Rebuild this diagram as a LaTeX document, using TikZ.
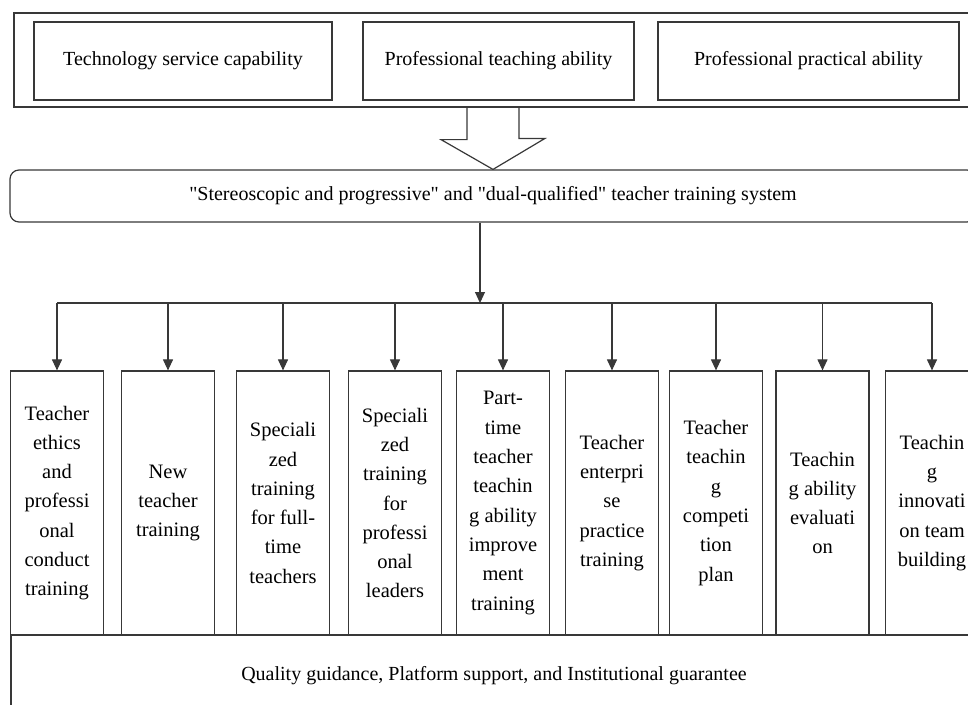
\documentclass[tikz,border=0pt]{standalone}
\usepackage{fontspec}
\setmainfont{Liberation Serif}[Ligatures=TeXOff]
\usetikzlibrary{arrows.meta,calc}
\definecolor{linegray}{gray}{0.22}
\begin{document}
\begin{tikzpicture}[x=1pt,y=-1pt,
  frame/.style={draw=linegray, line width=1.2pt, inner sep=0pt},
  topbox/.style={frame, minimum height=78pt, font=\fontsize{20}{24}\selectfont},
  trainbox/.style={frame, minimum width=93pt, minimum height=264pt, align=center,
    font=\fontsize{20.5}{29.3}\selectfont},
  conn/.style={draw=linegray, line width=1.1pt, -{Triangle[length=11pt,width=10pt]}},
  plainline/.style={draw=linegray, line width=1.2pt},
  fatarrow/.style={draw=linegray, line width=1.2pt, line join=miter}
]
\useasboundingbox (0,0) rectangle (968,704);

% top frame with three abilities
\node[frame, minimum width=976pt, minimum height=94pt] (outer) at (502,60) {};
\node[topbox, minimum width=298pt] (t1) at (183,61) {Technology service capability};
\node[topbox, minimum width=271pt] (t2) at (498.5,61) {Professional teaching ability};
\node[topbox, minimum width=301pt] (t3) at (808.5,61) {Professional practical ability};

% system box
\node[frame, rounded corners=9pt, minimum width=966pt, minimum height=52pt,
  font=\fontsize{20}{24}\selectfont] (sys) at (493,196)
  {"Stereoscopic and progressive" and "dual-qualified" teacher training system};

% hollow block arrow
\coordinate (tip) at (sys.north -| 493,0);
\draw[fatarrow] (outer.south -| tip) ++(-26,0) -- ++(0,32) -- ++(-26,0) -- (tip)
  -- ++(52,-31) -- ++(-26,0) -- ++(0,-32);

% training boxes
\node[trainbox] (b1) at (57,503) {Teacher\\ethics\\and\\professi\\onal\\conduct\\training};
\node[trainbox] (b2) at (168,503) {New\\teacher\\training};
\node[trainbox] (b3) at (283,503) {Speciali\\zed\\training\\for full-\\time\\teachers};
\node[trainbox] (b4) at (395,503) {Speciali\\zed\\training\\for\\professi\\onal\\leaders};
\node[trainbox] (b5) at (503,503) {Part-\\time\\teacher\\teachin\\g ability\\improve\\ment\\training};
\node[trainbox] (b6) at (612,503) {Teacher\\enterpri\\se\\practice\\training};
\node[trainbox] (b7) at (716,503) {Teacher\\teachin\\g\\competi\\tion\\plan};
\node[trainbox] (b8) at (822.5,503) {Teachin\\g ability\\evaluati\\on};
\node[trainbox] (b9) at (932,503) {Teachin\\g\\innovati\\on team\\building};

% base box
\node[frame, minimum width=966pt, minimum height=82pt,
  font=\fontsize{20}{24}\selectfont] (base) at (494,676)
  {Quality guidance, Platform support, and Institutional guarantee};

% connectors
\coordinate (hub) at (480,303);
\draw[conn] (sys.south -| hub) -- (hub);
\draw[plainline] (b1.north |- hub) -- (b9.north |- hub);
\foreach \i in {1,...,9}{
  \draw[conn] (b\i.north |- hub) -- (b\i.north);
}
\end{tikzpicture}
\end{document}
